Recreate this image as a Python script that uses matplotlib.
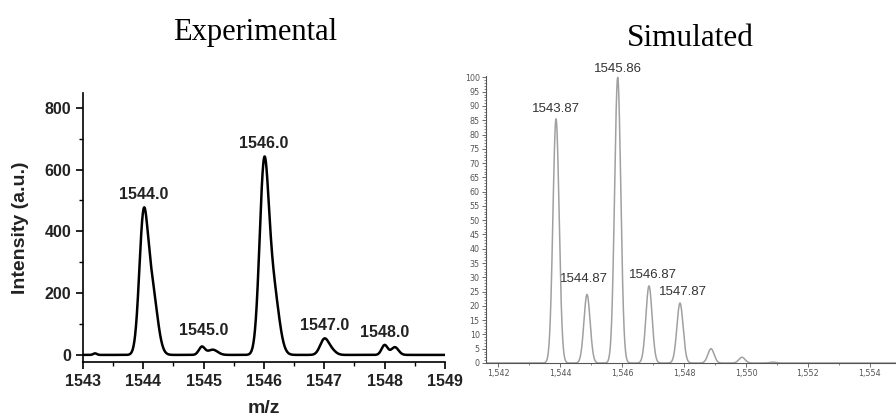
import numpy as np
import matplotlib.pyplot as plt
from matplotlib.ticker import MultipleLocator, FuncFormatter

# experimental spectrum: peak components (centre m/z, height, width)
exp_centers = [1543.2, 1544.0, 1544.14, 1544.97, 1545.15, 1546.0, 1546.15,
               1547.0, 1547.12, 1548.0, 1548.17]
exp_heights = [5, 405, 215, 26, 17, 575, 215, 50, 14, 32, 25]
exp_widths = [0.03, 0.07, 0.09, 0.05, 0.08, 0.075, 0.095, 0.07, 0.07, 0.05, 0.06]
exp_labels = ["1544.0", "1545.0", "1546.0", "1547.0", "1548.0"]
exp_label_x = [1544.0, 1545.0, 1546.0, 1547.0, 1548.0]
exp_label_y = [518, 78, 686, 94, 74]

# simulated isotope pattern
sim_centers = [1543.87, 1544.87, 1545.86, 1546.87, 1547.87, 1548.87, 1549.87, 1550.87]
sim_heights = [85.5, 24, 100, 27, 21, 5, 2, 0.3]
sim_labels = ["1543.87", "1544.87", "1545.86", "1546.87", "1547.87"]
sim_label_x = [1543.87, 1544.77, 1545.87, 1547.0, 1547.97]
sim_label_y = [89, 29.4, 103, 30.8, 24.8]


def profile(x, centers, heights, widths):
    y = np.zeros_like(x)
    for c, h, w in zip(centers, heights, widths):
        y += h * np.exp(-(x - c) ** 2 / (2 * w ** 2))
    return y


fig = plt.figure(figsize=(8.96, 4.19), dpi=100)

# ---- experimental ----
ax1 = fig.add_axes([0.0926, 0.136, 0.404, 0.642])
x1 = np.linspace(1543, 1549, 3000)
ax1.plot(x1, profile(x1, exp_centers, exp_heights, exp_widths), color="black", lw=1.8)
ax1.set_xlim(1543, 1549)
ax1.set_ylim(-23, 848)
for lbl, lx, ly in zip(exp_labels, exp_label_x, exp_label_y):
    ax1.text(lx, ly, lbl, ha="center", va="center", fontsize=11.5, fontweight="bold",
             family="Liberation Sans", color="#222222")
for s in ["top", "right"]:
    ax1.spines[s].set_visible(False)
ax1.spines["left"].set_linewidth(1.2)
ax1.spines["bottom"].set_linewidth(1.2)
ax1.xaxis.set_major_locator(MultipleLocator(1))
ax1.xaxis.set_minor_locator(MultipleLocator(0.5))
ax1.yaxis.set_major_locator(MultipleLocator(200))
ax1.yaxis.set_minor_locator(MultipleLocator(100))
ax1.tick_params(which="major", length=5, width=1.2, labelsize=11.5)
ax1.tick_params(which="minor", length=3, width=1)
for t in ax1.get_xticklabels() + ax1.get_yticklabels():
    t.set_fontweight("bold")
    t.set_family("Liberation Sans")
    t.set_color("#222222")
ax1.set_xlabel("m/z", fontsize=14, fontweight="bold", family="Liberation Sans",
               labelpad=8, color="#222222")
ax1.set_ylabel("Intensity (a.u.)", fontsize=14, fontweight="bold", family="Liberation Sans",
               labelpad=11, color="#222222")
fig.text(0.285, 0.922, "Experimental", ha="center", va="center", fontsize=22,
         family="Liberation Serif")

# ---- simulated ----
ax2 = fig.add_axes([0.5424, 0.1337, 0.4576, 0.685])
x2 = np.linspace(1541.6, 1554.9, 6000)
ax2.plot(x2, profile(x2, sim_centers, sim_heights, [0.1] * len(sim_centers)),
         color="#a0a0a0", lw=1.1)
ax2.set_xlim(1541.61, 1554.84)
ax2.set_ylim(0, 100.5)
for lbl, lx, ly in zip(sim_labels, sim_label_x, sim_label_y):
    ax2.text(lx, ly, lbl, ha="center", va="center", fontsize=9.5, color="#333333",
             family="Liberation Sans")
for s in ["top", "right"]:
    ax2.spines[s].set_visible(False)
for s in ["left", "bottom"]:
    ax2.spines[s].set_color("#555555")
    ax2.spines[s].set_linewidth(0.8)
ax2.xaxis.set_major_locator(MultipleLocator(2))
ax2.xaxis.set_minor_locator(MultipleLocator(1))
ax2.xaxis.set_major_formatter(FuncFormatter(lambda v, p: f"{v:,.0f}"))
ax2.yaxis.set_major_locator(MultipleLocator(5))
ax2.yaxis.set_minor_locator(MultipleLocator(1))
ax2.tick_params(which="major", length=3, width=0.6, labelsize=5.8, colors="#555555", pad=1.5)
ax2.tick_params(which="minor", length=1.5, width=0.5, colors="#555555")
fig.text(0.77, 0.909, "Simulated", ha="center", va="center", fontsize=22.5,
         family="Liberation Serif")

fig.savefig("out.png", dpi=100)
